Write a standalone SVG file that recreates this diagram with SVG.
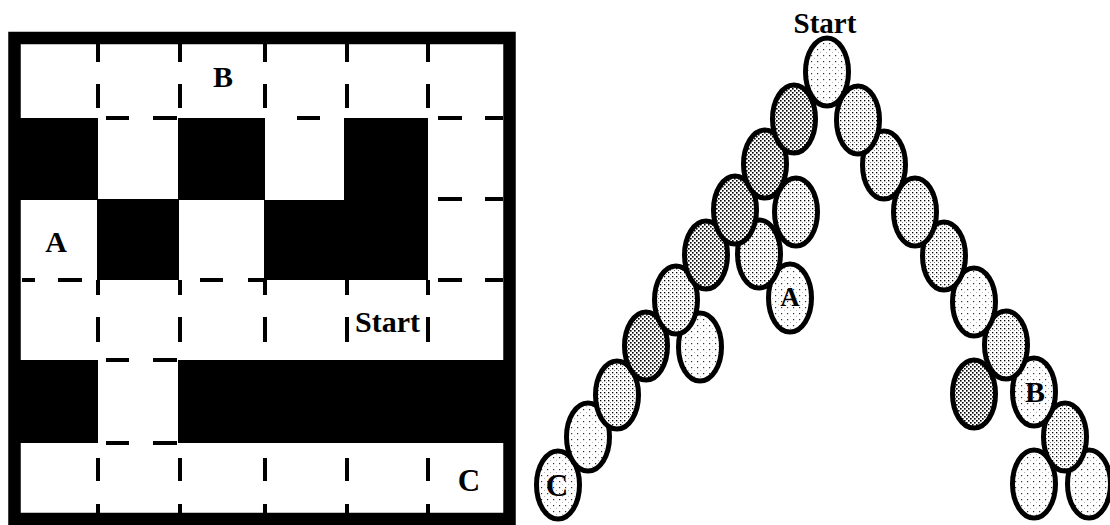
<svg xmlns="http://www.w3.org/2000/svg" width="1110" height="525" viewBox="0 0 1110 525">
<style>
.lbl{font-family:"Liberation Serif","Times New Roman",serif;font-weight:bold;fill:#000}
.blk{fill:#000}
.ds{stroke:#000;stroke-width:4;fill:none}
.nd{stroke:#000;stroke-width:5}
.d{fill:url(#pd)}
.m{fill:url(#pm)}
.l{fill:url(#pl)}
</style>
<defs>
<pattern id="pd" width="4" height="4" patternUnits="userSpaceOnUse">
<rect width="4" height="4" fill="#fff"/>
<rect x="0" y="0" width="1.6" height="1.6" fill="#000"/>
<rect x="2" y="2" width="1.6" height="1.6" fill="#000"/>
</pattern>
<pattern id="pm" width="4" height="4" patternUnits="userSpaceOnUse">
<rect width="4" height="4" fill="#fff"/>
<rect x="0" y="0" width="1.3" height="1.3" fill="#000"/>
<rect x="2" y="2" width="1" height="1" fill="#777"/>
</pattern>
<pattern id="pl" width="6" height="6" patternUnits="userSpaceOnUse">
<rect width="6" height="6" fill="#fff"/>
<rect x="1" y="1" width="1.2" height="1.2" fill="#333"/>
<rect x="4" y="4" width="0.8" height="0.8" fill="#888"/>
</pattern>
</defs>
<rect width="1110" height="525" fill="#fff"/>

<g id="maze">
<rect x="14.5" y="38" width="495" height="481" fill="none" stroke="#000" stroke-width="12.5"/>
<rect class="blk" x="14" y="118" width="84" height="82"/>
<rect class="blk" x="178" y="118" width="87" height="82"/>
<rect class="blk" x="344" y="118" width="84" height="162"/>
<rect class="blk" x="97" y="199" width="82" height="81"/>
<rect class="blk" x="264" y="200" width="84" height="80"/>
<rect class="blk" x="14" y="360" width="84" height="83"/>
<rect class="blk" x="178" y="360" width="332" height="83"/>
<path class="ds" d="M98,44V62M98,84V108M180,44V62M180,84V108M265,44V62M265,84V108M347,44V62M347,84V108M428,44V62M428,84V108"/>
<path class="ds" d="M106,118H129M153,118H177M297,118H320M438,118H462M485,118H503"/>
<path class="ds" d="M438,199H462M485,199H503"/>
<path class="ds" d="M22,280H35M58,280H82M200,280H223M248,280H264M438,280H462M485,280H503"/>
<path class="ds" d="M98,280V295M98,317V342M180,280V295M180,317V342M265,280V295M265,317V342M347,280V295M347,317V342M428,280V295M428,317V342"/>
<path class="ds" d="M106,360H129M153,360H177"/>
<path class="ds" d="M106,443H129M153,443H177"/>
<path class="ds" d="M98,458V481M98,504V513M180,458V481M180,504V513M265,458V481M265,504V513M347,458V481M347,504V513M428,458V481M428,504V513"/>
<text class="lbl" x="223" y="87" font-size="30" text-anchor="middle">B</text>
<text class="lbl" x="56" y="252" font-size="30" text-anchor="middle">A</text>
<text class="lbl" x="355" y="332" font-size="30">Start</text>
<text class="lbl" x="469" y="491" font-size="31" text-anchor="middle">C</text>
</g>

<g id="connectors"></g>

<g id="tree">
<g id="n-c"><ellipse class="nd l" cx="558" cy="485" rx="21.5" ry="34"/><text class="lbl" x="557" y="496" font-size="31" text-anchor="middle">C</text></g>
<g id="n-r9a"><ellipse class="nd l" cx="1034" cy="484" rx="21.5" ry="34"/></g>
<g id="n-r9b"><ellipse class="nd l" cx="1089" cy="484" rx="21.5" ry="34"/></g>
<g id="n-l8"><ellipse class="nd l" cx="588" cy="437" rx="21.5" ry="34"/></g>
<g id="n-r8"><ellipse class="nd m" cx="1065" cy="437" rx="21.5" ry="34"/></g>
<g id="n-l7"><ellipse class="nd m" cx="617" cy="395" rx="21.5" ry="34"/></g>
<g id="n-r7a"><ellipse class="nd d" cx="974" cy="394" rx="21.5" ry="34"/></g>
<g id="n-b"><ellipse class="nd l" cx="1034" cy="392" rx="21.5" ry="34"/><text class="lbl" x="1035" y="402" font-size="30" text-anchor="middle">B</text></g>
<g id="n-l6"><ellipse class="nd d" cx="646" cy="346" rx="21.5" ry="34"/></g>
<g id="n-l6b"><ellipse class="nd l" cx="700" cy="347" rx="21.5" ry="34"/></g>
<g id="n-r6"><ellipse class="nd m" cx="1006" cy="345" rx="21.5" ry="34"/></g>
<g id="n-l5"><ellipse class="nd m" cx="676" cy="300" rx="21.5" ry="34"/></g>
<g id="n-a"><ellipse class="nd l" cx="790" cy="298" rx="21.5" ry="34"/><text class="lbl" x="790" y="306" font-size="27" text-anchor="middle">A</text></g>
<g id="n-r5"><ellipse class="nd l" cx="974" cy="302" rx="21.5" ry="34"/></g>
<g id="n-l4"><ellipse class="nd d" cx="706" cy="255" rx="21.5" ry="34"/></g>
<g id="n-l4b"><ellipse class="nd m" cx="759" cy="254" rx="21.5" ry="34"/></g>
<g id="n-r4"><ellipse class="nd m" cx="944" cy="256" rx="21.5" ry="34"/></g>
<g id="n-l3"><ellipse class="nd d" cx="735" cy="210" rx="21.5" ry="34"/></g>
<g id="n-l3b"><ellipse class="nd m" cx="796" cy="212" rx="21.5" ry="34"/></g>
<g id="n-r3"><ellipse class="nd m" cx="915" cy="212" rx="21.5" ry="34"/></g>
<g id="n-l2"><ellipse class="nd d" cx="765" cy="164" rx="21.5" ry="34"/></g>
<g id="n-r2"><ellipse class="nd m" cx="884" cy="165" rx="21.5" ry="34"/></g>
<g id="n-l1"><ellipse class="nd d" cx="794" cy="119" rx="21.5" ry="34"/></g>
<g id="n-r1"><ellipse class="nd m" cx="858" cy="120" rx="21.5" ry="34"/></g>
<g id="n-start"><ellipse class="nd l" cx="827" cy="72" rx="21.5" ry="34"/><text class="lbl" x="825" y="33" font-size="29" text-anchor="middle">Start</text></g>
</g>
</svg>
